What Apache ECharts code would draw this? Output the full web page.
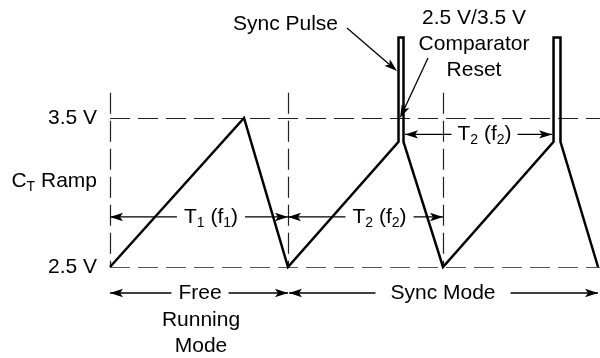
<!DOCTYPE html>
<html>
<head>
<meta charset="utf-8">
<script src="https://cdn.jsdelivr.net/npm/echarts@6/dist/echarts.min.js"></script>
<style>
  html, body { margin: 0; padding: 0; background: #fff; }
  #main { width: 600px; height: 358px; }
</style>
</head>
<body>
<div id="main"></div>
<script>
// Timing axis is in units of the free-running period T1, voltage in volts.
const rampTime  = [0, 0.753, 1.0, 1.621, 1.621, 1.649, 1.649, 1.871, 2.492, 2.492, 2.531, 2.531, 2.742];
const rampVolts = [2.5, 3.5, 2.5, 3.34, 4.04, 4.04, 3.34, 2.5, 3.34, 4.04, 4.04, 3.34, 2.5];

// Comparator thresholds and their tick labels
const levelValues = [2.5, 3.5];
const levelLabels = ['2.5 V', '3.5 V'];

// Start of each ramp cycle (dashed markers) and sync pulse edges
const cycleStarts = [0, 1.0, 1.871];
const markerTop = 3.67;
const pulseEdges = [[1.621, 1.649], [2.492, 2.531]];

const timeMax = 2.753;
const FONT = '"Liberation Sans", Arial, Helvetica, sans-serif';
const INK = '#000';

const chart = echarts.init(document.getElementById('main'), null, { renderer: 'canvas' });

chart.setOption({
  animation: false,
  grid: { left: 110, right: 0, top: 28.6, bottom: 91 },
  xAxis: { type: 'value', min: 0, max: timeMax, show: false },
  yAxis: {
    type: 'value', min: 2.5, max: 4.1,
    axisLine: { show: false }, axisTick: { show: false }, splitLine: { show: false },
    axisLabel: {
      customValues: levelValues,
      formatter: v => levelLabels[levelValues.indexOf(v)],
      fontSize: 21, fontFamily: FONT, color: INK, margin: 13
    }
  },
  series: [{
    type: 'line',
    name: 'CT Ramp',
    data: rampTime.map((t, i) => [t, rampVolts[i]]),
    symbol: 'none',
    clip: false,
    z: 5,
    lineStyle: { color: INK, width: 2.5, join: 'miter', cap: 'butt' },
    markLine: {
      silent: true,
      symbol: 'none',
      label: { show: false },
      z: 2,
      data: [
        [{ coord: [0, levelValues[1]], lineStyle: { color: '#222', width: 1.2, type: [20, 8] } },
         { coord: [timeMax, levelValues[1]] }],
        [{ coord: [0, levelValues[0]], lineStyle: { color: '#555', width: 1.2, type: [20, 8] } },
         { coord: [timeMax, levelValues[0]] }]
      ].concat(cycleStarts.map(t => [
        { coord: [t, markerTop], lineStyle: { color: '#222', width: 1.2, type: [21, 7] } },
        { coord: [t, levelValues[0]] }
      ]))
    }
  }]
});

// ---- annotation layer: dimension arrows and captions ----
const P = (t, v) => chart.convertToPixel({ gridIndex: 0 }, [t, v]);

function head(tip, dir) {
  const L = 13, W = 4.2, N = 3;
  const c = Math.cos(dir), s = Math.sin(dir);
  const local = [[0, 0], [-L, -W], [-L + N, 0], [-L, W]];
  return {
    type: 'polygon', z: 110,
    shape: { points: local.map(([a, b]) => [tip[0] + a * c - b * s, tip[1] + a * s + b * c]) },
    style: { fill: INK }
  };
}
function seg(a, b) {
  return { type: 'line', z: 110, shape: { x1: a[0], y1: a[1], x2: b[0], y2: b[1] },
           style: { stroke: INK, lineWidth: 1.3 } };
}
function dimension(x0, x1, y) {
  return [seg([x0, y], [x1, y]), head([x0, y], Math.PI), head([x1, y], 0)];
}
function pointer(from, tip) {
  const dir = Math.atan2(tip[1] - from[1], tip[0] - from[0]);
  const back = [tip[0] - 10 * Math.cos(dir), tip[1] - 10 * Math.sin(dir)];
  return [seg(from, back), head(tip, dir)];
}
const rich = {
  m: { fontSize: 21, lineHeight: 26, fontFamily: FONT, fill: INK, color: INK },
  s: { fontSize: 14, lineHeight: 14, fontFamily: FONT, fill: INK, color: INK, verticalAlign: 'bottom' }
};
function caption(text, x, y, opt) {
  opt = opt || {};
  const style = {
    text: text, x: x, y: y, rich: rich,
    font: '21px ' + FONT, fill: INK, lineHeight: 26,
    align: opt.align || 'center', verticalAlign: 'middle',
    textAlign: opt.align || 'center', textVerticalAlign: 'middle'
  };
  if (opt.bg) { style.backgroundColor = '#fff'; style.padding = opt.pad || [0, 6]; }
  return { type: 'text', z: 120, style: style };
}

const p0 = P(0, 2.5), p1 = P(1, 2.5), p2 = P(cycleStarts[2], 2.5);
const yHigh = P(0, 3.5)[1], yLow = p0[1];
const yPeriod = P(0, 2.836)[1];
const yPeriod2 = P(0, 3.39)[1];
const yMode = yLow + 26;
const pulse1L = P(pulseEdges[0][0], 3.34)[0], pulse1R = P(pulseEdges[0][1], 3.34)[0];
const pulse2L = P(pulseEdges[1][0], 3.34)[0];
const tEnd = P(rampTime[rampTime.length - 1], 2.5)[0];

const g = [];
// T1 and T2 period markers
g.push(...dimension(p0[0], p1[0], yPeriod));
g.push(caption('{m|T}{s|1}{m| (f}{s|1}{m|)}', (p0[0] + p1[0]) / 2 + 12, yPeriod, { bg: true, pad: [0, 7] }));
g.push(...dimension(p1[0], p2[0], yPeriod));
g.push(caption('{m|T}{s|2}{m| (f}{s|2}{m|)}', (p1[0] + p2[0]) / 2 + 14, yPeriod, { bg: true, pad: [0, 7] }));
g.push(...dimension(pulse1R + 1.5, pulse2L - 1.5, yPeriod2));
g.push(caption('{m|T}{s|2}{m| (f}{s|2}{m|)}', (pulse1R + pulse2L) / 2 + 6, yPeriod2, { bg: true, pad: [0, 6] }));

// operating modes
g.push(...dimension(p0[0], p1[0], yMode));
g.push(caption('Free', (p0[0] + p1[0]) / 2 + 1, yMode, { bg: true, pad: [0, 7] }));
g.push(caption('Running', (p0[0] + p1[0]) / 2 + 2, yMode + 27));
g.push(caption('Mode', (p0[0] + p1[0]) / 2 + 2, yMode + 53));
g.push(...dimension(p1[0] + 1, tEnd, yMode));
g.push(caption('Sync Mode', (p1[0] + tEnd) / 2, yMode, { bg: true, pad: [0, 15] }));

// waveform name
g.push(caption('{m|C}{s|T}{m| Ramp}', 97, 181, { align: 'right' }));

// sync pulse and comparator callouts
g.push(caption('Sync Pulse', 285.5, 24));
g.push(...pointer([347, 28], [pulse1L - 1.5, 71]));
g.push(caption('2.5 V/3.5 V\nComparator\nReset', 474, 44));
g.push(...pointer([428, 58], [pulse1L + 1.5, yHigh]));

chart.setOption({ graphic: { elements: g } });
</script>
</body>
</html>
